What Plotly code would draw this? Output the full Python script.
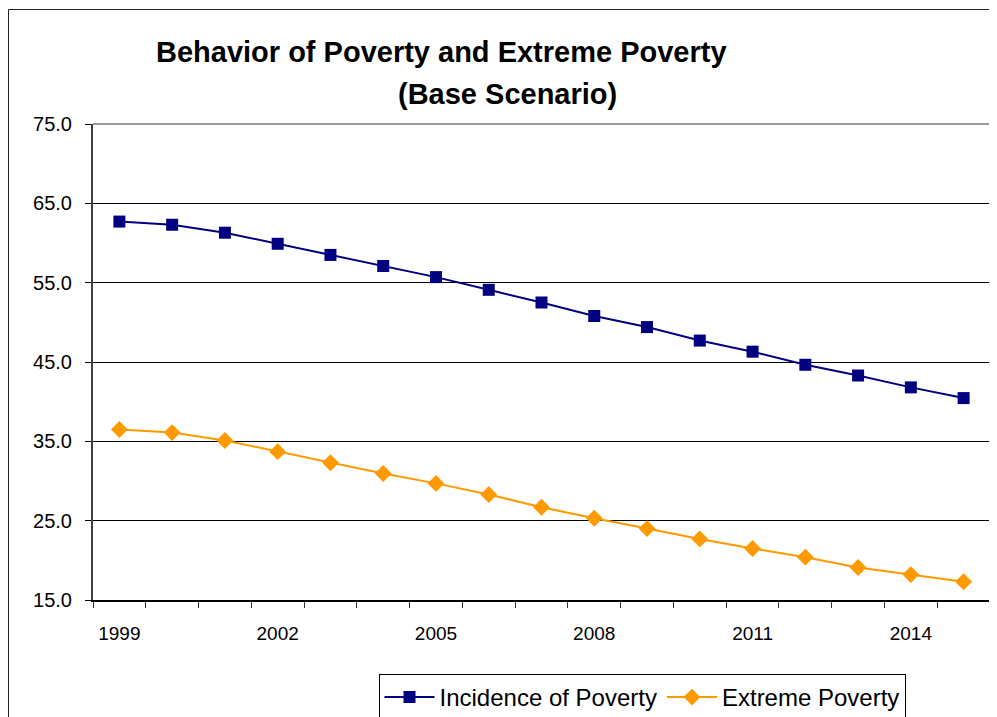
import plotly.graph_objects as go

years = list(range(1999, 2016))
incidence_of_poverty = [62.7, 62.3, 61.3, 59.9, 58.5, 57.1, 55.7, 54.1, 52.5, 50.8,
                        49.4, 47.7, 46.3, 44.65, 43.3, 41.8, 40.45]
extreme_poverty = [36.5, 36.1, 35.1, 33.7, 32.3, 30.95, 29.7, 28.3, 26.7, 25.3,
                   24.0, 22.7, 21.5, 20.4, 19.1, 18.2, 17.3]
year_ticks = [1999, 2002, 2005, 2008, 2011, 2014]
y_ticks = [15, 25, 35, 45, 55, 65, 75]

# page body has an 8px default margin; figure coords = page coords - 8
OFF = 8
W, H = 989, 709
L, T = 93 - OFF, 124 - OFF
R = W - (990 - OFF)
B = H - (600 - OFF)
pw, ph = W - L - R, H - T - B

def px(x):
    return (x - OFF - L) / pw

def py(y):
    return (H - B - (y - OFF)) / ph

fig = go.Figure()
fig.add_trace(go.Scatter(
    x=years, y=incidence_of_poverty, name="Incidence of Poverty",
    mode="lines+markers",
    line=dict(color="#000080", width=2),
    marker=dict(symbol="square", size=12, color="#000080"),
))
fig.add_trace(go.Scatter(
    x=years, y=extreme_poverty, name="Extreme Poverty",
    mode="lines+markers",
    line=dict(color="#FF9900", width=2),
    marker=dict(symbol="diamond", size=13, color="#FF9900"),
))

font = "Liberation Sans, Arial, sans-serif"

fig.update_layout(
    width=W, height=H,
    margin=dict(l=L, r=R, t=T, b=B, autoexpand=False),
    paper_bgcolor="white", plot_bgcolor="white",
    font=dict(family=font, color="black", size=19),
    showlegend=True,
    legend=dict(
        orientation="h", x=px(642), y=py(674), xanchor="center", yanchor="top",
        bordercolor="black", borderwidth=1, font=dict(size=24, family=font),
        itemwidth=50, tracegroupgap=0,
    ),
    xaxis=dict(
        range=[1998.5, 2015.5],
        tickvals=year_ticks, ticktext=[str(v) for v in year_ticks],
        ticks="", ticklabelstandoff=15, tickfont=dict(size=19),
        showgrid=False, zeroline=False,
        showline=True, linecolor="black", linewidth=1.5,
        minor=dict(ticks="outside", tick0=1998.5, dtick=1, ticklen=6,
                   tickcolor="#333", tickwidth=1, showgrid=False),
    ),
    yaxis=dict(
        range=[15, 75], tickvals=y_ticks, tickformat=".1f",
        ticks="outside", ticklen=6, tickcolor="black", tickwidth=1,
        ticklabelstandoff=9, tickfont=dict(size=20),
        showgrid=True, gridcolor="black", gridwidth=1,
        zeroline=False, showline=True, linecolor="#404040", linewidth=2,
    ),
)

# plot-area border (top & right, gray)
fig.add_shape(type="line", xref="paper", yref="paper", x0=0, x1=1, y0=1, y1=1,
              line=dict(color="#9a9a9a", width=2))
fig.add_shape(type="line", xref="paper", yref="paper", x0=1, x1=1, y0=0, y1=1,
              line=dict(color="#9a9a9a", width=2))
# outer chart frame
fig.add_shape(type="rect", xref="paper", yref="paper",
              x0=px(8.5), x1=px(1010), y0=py(9.5), y1=py(740),
              line=dict(color="#222", width=1))

fig.add_annotation(text="<b>Behavior of Poverty and Extreme Poverty</b>",
                   xref="paper", yref="paper", x=px(441), y=py(52),
                   xanchor="center", yanchor="middle", showarrow=False,
                   font=dict(size=29, family=font, color="black"))
fig.add_annotation(text="<b>(Base Scenario)</b>",
                   xref="paper", yref="paper", x=px(507), y=py(94),
                   xanchor="center", yanchor="middle", showarrow=False,
                   font=dict(size=29, family=font, color="black"))

fig.write_html("out.html")
